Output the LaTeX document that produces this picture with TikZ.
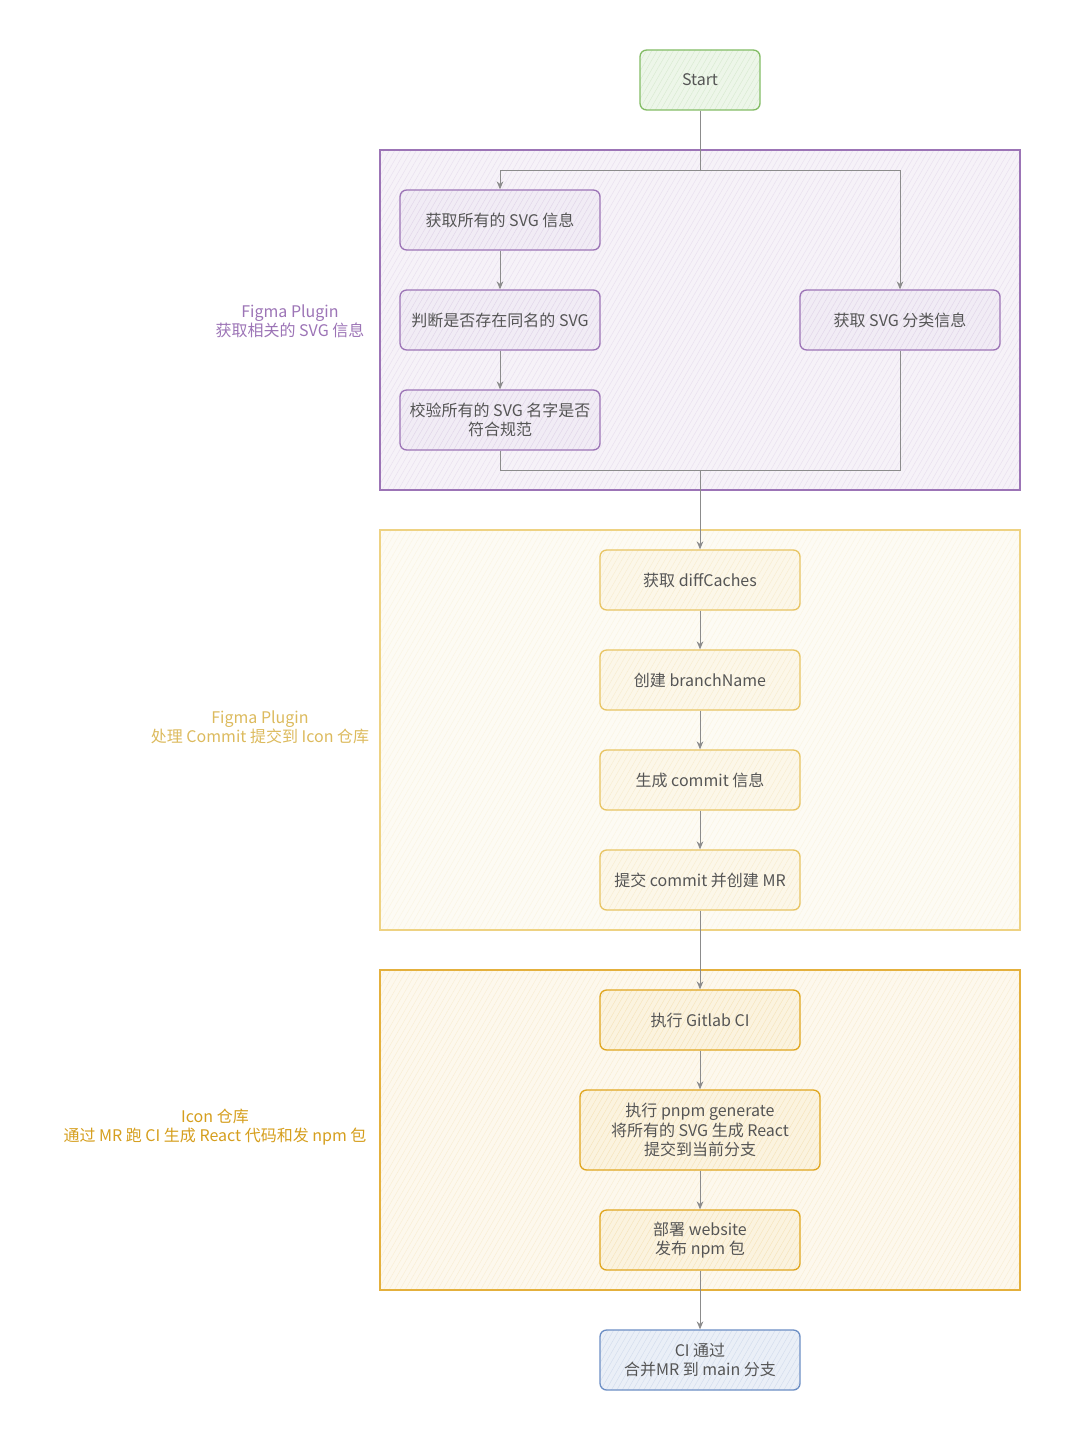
\documentclass[tikz,border=0pt]{standalone}
\usepackage{fontspec}
\setmainfont{Noto Sans CJK SC}
\usepackage{tikz}
\usetikzlibrary{arrows.meta,positioning,patterns.meta}
\definecolor{startgreen}{RGB}{130,188,100}
\definecolor{figpurple}{RGB}{156,116,182}
\definecolor{figyellow}{RGB}{232,196,98}
\definecolor{grpyellow}{RGB}{238,210,130}
\definecolor{icoorange}{RGB}{224,166,30}
\definecolor{grporange}{RGB}{228,176,60}
\definecolor{doneblue}{RGB}{108,142,196}
\definecolor{txtgray}{RGB}{85,85,85}
\definecolor{linegray}{RGB}{140,140,140}

\begin{document}
\begin{tikzpicture}[x=0.75pt, y=-0.75pt,
  proc/.style={rectangle, rounded corners=5pt, line width=1pt,
               minimum width=150pt, minimum height=45pt, align=center,
               text=txtgray, font=\fontsize{12}{14.5}\selectfont, inner sep=2pt},
  hatch/.style={preaction={fill=#1!14},
                pattern={Lines[angle=60,distance=3.5pt,line width=0.35pt]},
                pattern color=#1!30},
  grphatch/.style={preaction={fill=#1!9},
                pattern={Lines[angle=60,distance=3.5pt,line width=0.35pt]},
                pattern color=#1!22},
  grp/.style={rectangle, line width=0.8pt, minimum width=480pt},
  glabel/.style={align=center, font=\fontsize{12}{14.5}\selectfont},
  line/.style={linegray, line width=0.7pt},
  arr/.style={-{Stealth[length=6pt,width=5pt]}, linegray, line width=0.7pt}
]
  \useasboundingbox (0,0) rectangle (1071,1441);

  % group frames
  \node[grp, draw=figpurple, grphatch=figpurple, minimum height=255pt]
        (figsvg) at (700,320) {};
  \node[grp, draw=grpyellow, grphatch=grpyellow, minimum height=300pt]
        (figcommit) at (700,730) {};
  \node[grp, draw=grporange, grphatch=grporange, minimum height=240pt]
        (iconrepo) at (700,1130) {};

  % group labels
  \node[glabel, text=figpurple] (figsvglbl) at (290,321)
        {Figma Plugin\\获取相关的 SVG 信息};
  \node[glabel, text=figyellow!95!black] (figcommitlbl) at (260,727)
        {Figma Plugin\\处理 Commit 提交到 Icon 仓库};
  \node[glabel, text=icoorange!95!black] (iconrepolbl) at (215,1127)
        {Icon 仓库\\通过 MR 跑 CI 生成 React 代码和发 npm 包};

  % steps
  \node[proc, draw=startgreen, hatch=startgreen, minimum width=90pt] (start) at (700,80) {Start};

  \node[proc, draw=figpurple, hatch=figpurple] (getsvg)   at (500,220) {获取所有的 SVG 信息};
  \node[proc, draw=figpurple, hatch=figpurple] (samename) at (500,320) {判断是否存在同名的 SVG};
  \node[proc, draw=figpurple, hatch=figpurple] (validate) at (500,420) {校验所有的 SVG 名字是否\\符合规范};
  \node[proc, draw=figpurple, hatch=figpurple] (getcat)   at (900,320) {获取 SVG 分类信息};

  \node[proc, draw=figyellow, hatch=figyellow] (diff)      at (700,580) {获取 diffCaches};
  \node[proc, draw=figyellow, hatch=figyellow, below=75pt of diff.center, anchor=center] (branch)    {创建 branchName};
  \node[proc, draw=figyellow, hatch=figyellow, below=75pt of branch.center, anchor=center] (commitmsg) {生成 commit 信息};
  \node[proc, draw=figyellow, hatch=figyellow, below=75pt of commitmsg.center, anchor=center] (submit) {提交 commit 并创建 MR};

  \node[proc, draw=icoorange, hatch=icoorange] (gitlab) at (700,1020) {执行 Gitlab CI};
  \node[proc, draw=icoorange, hatch=icoorange, minimum width=180pt, minimum height=60pt]
        (pnpm) at (700,1130) {执行 pnpm generate\\将所有的 SVG 生成 React\\提交到当前分支};
  \node[proc, draw=icoorange, hatch=icoorange] (deploy) at (700,1240) {部署 website\\发布 npm 包};

  \node[proc, draw=doneblue, hatch=doneblue] (done) at (700,1360) {CI 通过\\合并MR 到 main 分支};

  % connectors
  \coordinate (split) at (700,170);
  \coordinate (join)  at (700,470);
  \draw[line] (start) -- (split);
  \draw[arr] (split) -| (getsvg);
  \draw[arr] (split) -| (getcat);
  \draw[arr] (getsvg) -- (samename);
  \draw[arr] (samename) -- (validate);
  \draw[line] (validate) |- (join);
  \draw[line] (getcat) |- (join);
  \draw[arr] (join) -- (diff);
  \draw[arr] (diff) -- (branch);
  \draw[arr] (branch) -- (commitmsg);
  \draw[arr] (commitmsg) -- (submit);
  \draw[arr] (submit) -- (gitlab);
  \draw[arr] (gitlab) -- (pnpm);
  \draw[arr] (pnpm) -- (deploy);
  \draw[arr] (deploy) -- (done);
\end{tikzpicture}
\end{document}
